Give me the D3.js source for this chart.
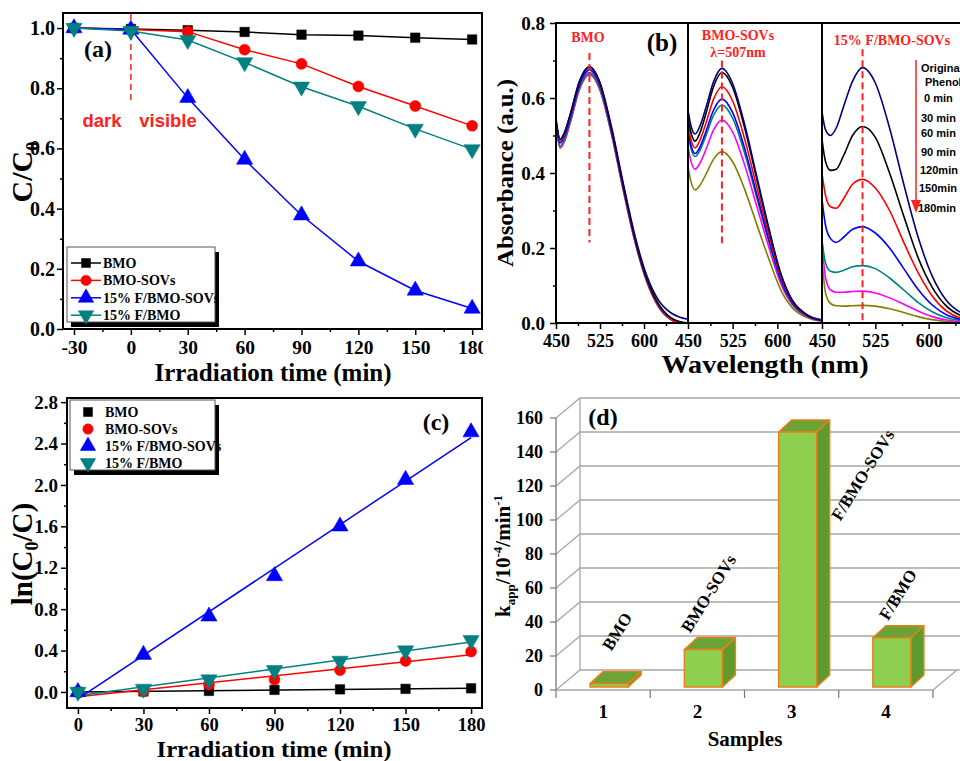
<!DOCTYPE html>
<html>
<head>
<meta charset="utf-8">
<script src="https://d3js.org/d3.v7.min.js"></script>
<style>
  body { margin: 0; background: #fff; }
  svg { display: block; }
</style>
</head>
<body>
<script>
// ---------- data ----------
// (a) C/C0 against irradiation time
var timeA = [-30, 0, 30, 60, 90, 120, 150, 180];
var ccBMO  = [1.0, 0.997, 0.993, 0.987, 0.978, 0.975, 0.968, 0.962];
var ccSOV  = [1.0, 0.995, 0.988, 0.928, 0.881, 0.806, 0.741, 0.675];
var ccFSOV = [1.0, 0.995, 0.768, 0.563, 0.378, 0.225, 0.128, 0.068];
var ccF    = [1.0, 0.990, 0.960, 0.886, 0.805, 0.740, 0.665, 0.597];
var seriesNames = ["BMO", "BMO-SOVs", "15% F/BMO-SOVs", "15% F/BMO"];
var seriesColors = ["#000000", "#ff0000", "#0000ff", "#008080"];
var ticksA = [-30, 0, 30, 60, 90, 120, 150, 180];

// (b) absorption spectra, one array per time step
var spectraColors = ["#000080", "#000000", "#ff0000", "#0000ff", "#008080", "#ff00ff", "#808000"];
var wlBMO = [450, 457, 465, 475, 490, 507, 525, 545, 565, 585, 605, 625, 645, 660, 675];
var absBMO = [
  [0.545, 0.490, 0.510, 0.560, 0.645, 0.683, 0.640, 0.520, 0.370, 0.230, 0.125, 0.060, 0.028, 0.016, 0.010],
  [0.540, 0.490, 0.510, 0.560, 0.643, 0.683, 0.640, 0.515, 0.365, 0.225, 0.118, 0.050, 0.015, 0.004, 0.000],
  [0.540, 0.485, 0.505, 0.555, 0.640, 0.681, 0.636, 0.512, 0.362, 0.222, 0.115, 0.047, 0.012, 0.002, 0.000],
  [0.535, 0.480, 0.500, 0.550, 0.635, 0.675, 0.632, 0.510, 0.360, 0.220, 0.114, 0.046, 0.012, 0.002, 0.000],
  [0.530, 0.472, 0.492, 0.543, 0.628, 0.668, 0.625, 0.505, 0.356, 0.217, 0.112, 0.045, 0.011, 0.002, 0.000],
  [0.530, 0.468, 0.488, 0.540, 0.625, 0.665, 0.622, 0.502, 0.353, 0.215, 0.110, 0.043, 0.010, 0.001, 0.000],
  [0.528, 0.466, 0.486, 0.538, 0.622, 0.662, 0.620, 0.500, 0.350, 0.213, 0.108, 0.042, 0.010, 0.001, 0.000]
];
var wlSOV = [450, 455, 462, 470, 480, 493, 507, 525, 545, 565, 585, 605, 625, 645, 660, 675];
var absSOV = [
  [0.568, 0.526, 0.504, 0.525, 0.574, 0.644, 0.679, 0.638, 0.530, 0.394, 0.258, 0.136, 0.061, 0.027, 0.014, 0.008],
  [0.550, 0.508, 0.485, 0.507, 0.558, 0.631, 0.668, 0.628, 0.521, 0.387, 0.254, 0.134, 0.060, 0.027, 0.013, 0.008],
  [0.530, 0.489, 0.467, 0.487, 0.532, 0.597, 0.630, 0.592, 0.491, 0.365, 0.239, 0.126, 0.057, 0.025, 0.013, 0.008],
  [0.515, 0.474, 0.452, 0.469, 0.510, 0.568, 0.597, 0.561, 0.466, 0.346, 0.227, 0.119, 0.054, 0.024, 0.012, 0.007],
  [0.505, 0.465, 0.444, 0.460, 0.499, 0.554, 0.581, 0.546, 0.453, 0.337, 0.221, 0.116, 0.052, 0.023, 0.012, 0.007],
  [0.470, 0.431, 0.410, 0.426, 0.462, 0.515, 0.541, 0.509, 0.422, 0.314, 0.206, 0.108, 0.049, 0.022, 0.011, 0.006],
  [0.417, 0.377, 0.355, 0.367, 0.396, 0.437, 0.457, 0.430, 0.357, 0.265, 0.174, 0.091, 0.041, 0.018, 0.009, 0.005]
];
var wlFSOV = [450, 455, 462, 470, 480, 493, 507, 525, 545, 565, 585, 605, 625, 645, 660, 675];
var absFSOV = [
  [0.563, 0.515, 0.500, 0.520, 0.575, 0.645, 0.681, 0.640, 0.520, 0.370, 0.230, 0.125, 0.060, 0.028, 0.016, 0.010],
  [0.490, 0.430, 0.407, 0.410, 0.445, 0.500, 0.524, 0.495, 0.400, 0.285, 0.175, 0.095, 0.045, 0.020, 0.012, 0.008],
  [0.400, 0.340, 0.310, 0.306, 0.330, 0.370, 0.383, 0.360, 0.300, 0.215, 0.135, 0.072, 0.032, 0.013, 0.008, 0.005],
  [0.330, 0.260, 0.225, 0.215, 0.228, 0.250, 0.257, 0.240, 0.200, 0.145, 0.090, 0.048, 0.022, 0.010, 0.006, 0.004],
  [0.220, 0.160, 0.138, 0.135, 0.140, 0.150, 0.153, 0.145, 0.120, 0.088, 0.055, 0.030, 0.014, 0.007, 0.004, 0.003],
  [0.220, 0.120, 0.088, 0.082, 0.082, 0.084, 0.085, 0.080, 0.067, 0.050, 0.032, 0.017, 0.008, 0.004, 0.003, 0.002],
  [0.170, 0.080, 0.052, 0.046, 0.045, 0.046, 0.047, 0.045, 0.038, 0.028, 0.017, 0.009, 0.004, 0.002, 0.001, 0.001]
];
var subTitles = ["BMO", "BMO-SOVs", "15% F/BMO-SOVs"];
var peakWl = 507;
var timeLabels = ["Original", "Phenol", "0  min", "30 min", "60 min", "90 min", "120min", "150min", "180min"];

// (c) ln(C0/C) against time
var timeC = [0, 30, 60, 90, 120, 150, 180];
var lnBMO  = [0.0, 0.005, 0.01, 0.02, 0.025, 0.03, 0.035];
var lnSOV  = [0.0, 0.005, 0.07, 0.12, 0.21, 0.30, 0.39];
var lnFSOV = [0.0, 0.36, 0.73, 1.12, 1.60, 2.05, 2.51];
var lnF    = [0.0, 0.03, 0.12, 0.21, 0.30, 0.40, 0.50];

// (d) apparent rate constants
var sampleIds = ["1", "2", "3", "4"];
var sampleNames = ["BMO", "BMO-SOVs", "F/BMO-SOVs", "F/BMO"];
var kValues = [2, 22, 150, 29];

// ---------- helpers ----------
var serif = '"Liberation Serif","Times New Roman",serif';
var sans = '"Liberation Sans",Arial,sans-serif';

var svg = d3.select("body").append("svg").attr("width", 960).attr("height", 761);

function txt(g, s, x, y, o) {
  o = o || {};
  var t = g.append("text").attr("x", x).attr("y", y)
    .attr("font-family", o.family || serif)
    .attr("font-weight", o.weight || "bold")
    .attr("font-size", o.size || 20)
    .attr("fill", o.fill || "#000")
    .attr("text-anchor", o.anchor || "middle")
    .text(s);
  if (o.rotate) t.attr("transform", "rotate(" + o.rotate + "," + x + "," + y + ")");
  if (o.len) t.attr("textLength", o.len).attr("lengthAdjust", "spacingAndGlyphs");
  return t;
}

// text made of pieces, some sub or superscript
function rich(g, parts, x, y, size, rotate) {
  var t = g.append("text").attr("x", x).attr("y", y)
    .attr("font-family", serif).attr("font-weight", "bold")
    .attr("font-size", size).attr("text-anchor", "middle")
    .attr("transform", "rotate(" + rotate + "," + x + "," + y + ")");
  var shift = 0;
  parts.forEach(function(p) {
    var want = p[1] == "sub" ? size * 0.22 : p[1] == "sup" ? -size * 0.38 : 0;
    var ts = t.append("tspan").text(p[0]).attr("dy", want - shift);
    if (p[1]) ts.attr("font-size", size * 0.62);
    shift = want;
  });
  return t;
}

function styleAxis(g, size) {
  g.select(".domain").remove();
  g.selectAll(".tick line").attr("stroke", "#000").attr("stroke-width", 1.5);
  g.selectAll(".tick text").attr("font-family", serif).attr("font-weight", "bold")
    .attr("font-size", size).attr("fill", "#000");
}

function marker(g, kind, x, y, color, size) {
  var type = kind == 0 ? d3.symbolSquare : kind == 1 ? d3.symbolCircle : d3.symbolTriangle;
  var p = g.append("path").attr("d", d3.symbol().type(type).size(size)())
    .attr("fill", color).attr("stroke", color).attr("stroke-width", 0.5);
  var tr = "translate(" + x + "," + y + ")";
  if (kind == 3) tr += " rotate(180)";
  p.attr("transform", tr);
}
var markerSizes = [90, 95, 115, 115];

function legendBox(g, x, y, w, h) {
  g.append("rect").attr("x", x + 4).attr("y", y + 5).attr("width", w).attr("height", h).attr("fill", "#000");
  g.append("rect").attr("x", x).attr("y", y).attr("width", w).attr("height", h)
    .attr("fill", "#fff").attr("stroke", "#555").attr("stroke-width", 1);
}

// ---------- panel (a) ----------
svg.append("clipPath").attr("id", "clipA").append("rect")
  .attr("x", 0).attr("y", 0).attr("width", 483).attr("height", 390);
var ga = svg.append("g").attr("clip-path", "url(#clipA)");
var xa = d3.scaleLinear().domain([-35.8, 185.2]).range([63, 482]);
var ya = d3.scaleLinear().domain([0, 1.05]).range([329, 13]);

ga.append("g").attr("transform", "translate(0,329)")
  .call(d3.axisBottom(xa).tickValues(d3.range(-15, 181, 30)).tickSize(3).tickFormat(""))
  .call(styleAxis, 20);
ga.append("g").attr("transform", "translate(0,329)")
  .call(d3.axisBottom(xa).tickValues(ticksA).tickSize(6).tickPadding(5).tickFormat(function(d) { return String(d); }))
  .call(styleAxis, 19.5);
ga.append("g").attr("transform", "translate(63,0)")
  .call(d3.axisLeft(ya).tickValues([0.1, 0.3, 0.5, 0.7, 0.9]).tickSize(3).tickFormat(""))
  .call(styleAxis, 20);
ga.append("g").attr("transform", "translate(63,0)")
  .call(d3.axisLeft(ya).tickValues([0, 0.2, 0.4, 0.6, 0.8, 1.0]).tickSize(6).tickPadding(2).tickFormat(d3.format(".1f")))
  .call(styleAxis, 20);
ga.append("rect").attr("x", 63).attr("y", 13).attr("width", 419).attr("height", 316)
  .attr("fill", "none").attr("stroke", "#000").attr("stroke-width", 2);

// dark / visible divider
ga.append("line").attr("x1", xa(0)).attr("x2", xa(0)).attr("y1", 14).attr("y2", ya(0.76))
  .attr("stroke", "#ff2020").attr("stroke-width", 1.5).attr("stroke-dasharray", "6,4");
txt(ga, "dark", 102, 127, { family: sans, size: 18.5, fill: "#ff2020" });
txt(ga, "visible", 168, 127, { family: sans, size: 18.5, fill: "#ff2020" });
txt(ga, "(a)", 98, 57, { size: 24 });

var lineA = d3.line().x(function(d) { return xa(d[0]); }).y(function(d) { return ya(d[1]); });
[ccBMO, ccSOV, ccFSOV, ccF].forEach(function(arr, k) {
  var pts = timeA.map(function(t, i) { return [t, arr[i]]; });
  ga.append("path").attr("d", lineA(pts)).attr("fill", "none")
    .attr("stroke", seriesColors[k]).attr("stroke-width", 1.5);
  pts.forEach(function(p) { marker(ga, k, xa(p[0]), ya(p[1]), seriesColors[k], markerSizes[k]); });
});

legendBox(ga, 67, 247, 148, 75);
seriesNames.forEach(function(n, k) {
  var yy = 263 + k * 17.4;
  ga.append("line").attr("x1", 71).attr("x2", 101).attr("y1", yy).attr("y2", yy)
    .attr("stroke", seriesColors[k]).attr("stroke-width", 1.5);
  marker(ga, k, 86, yy, seriesColors[k], markerSizes[k] * 0.9);
  txt(ga, n, 103, yy + 5, { size: 14, anchor: "start" });
});

rich(ga, [["C/C", null], ["0", "sub"]], 32, 172, 30, -90);
txt(ga, "Irradiation time (min)", 273, 381, { size: 24.5, len: 237 });

// ---------- panel (b) ----------
var gb = svg.append("g");
var yb = d3.scaleLinear().domain([0, 0.8]).range([323, 23]);
var subs = [
  { x0: 556, px: 132, wl: wlBMO, abs: absBMO },
  { x0: 688, px: 134, wl: wlSOV, abs: absSOV },
  { x0: 822, px: 160, wl: wlFSOV, abs: absFSOV }
];
var dashSpan = [[0.72, 0.215], [0.70, 0.213], [0.73, 0]];
var titlePos = [[588, 42], [738, 40], [892, 45]];

subs.forEach(function(s, si) {
  var xs = d3.scaleLinear().domain([450, 675]).range([s.x0, s.x0 + s.px]);
  var cid = "clipB" + si;
  svg.append("clipPath").attr("id", cid).append("rect")
    .attr("x", s.x0).attr("y", 23).attr("width", s.px).attr("height", 300);
  var gc = gb.append("g").attr("clip-path", "url(#" + cid + ")");
  var line = d3.line().curve(d3.curveMonotoneX)
    .x(function(d) { return xs(d[0]); }).y(function(d) { return yb(d[1]); });
  for (var k = s.abs.length - 1; k >= 0; k--) {
    var pts = s.wl.map(function(w, i) { return [w, s.abs[k][i]]; });
    gc.append("path").attr("d", line(pts)).attr("fill", "none")
      .attr("stroke", spectraColors[k]).attr("stroke-width", 1.6);
  }
  gb.append("line").attr("x1", xs(peakWl)).attr("x2", xs(peakWl))
    .attr("y1", yb(dashSpan[si][0])).attr("y2", yb(dashSpan[si][1]))
    .attr("stroke", "#ff2020").attr("stroke-width", 2).attr("stroke-dasharray", "7,4");
  gb.append("g").attr("transform", "translate(0,323)")
    .call(d3.axisBottom(xs).tickValues([487.5, 562.5, 637.5]).tickSize(3).tickFormat(""))
    .call(styleAxis, 18);
  gb.append("g").attr("transform", "translate(0,323)")
    .call(d3.axisBottom(xs).tickValues([450, 525, 600]).tickSize(6).tickPadding(5).tickFormat(d3.format("d")))
    .call(styleAxis, 18);
  txt(gb, subTitles[si], titlePos[si][0], titlePos[si][1], { size: 14, fill: "#ff2020" });
});
txt(gb, "\u03bb=507nm", 738, 57, { size: 14, fill: "#ff2020" });

gb.append("g").attr("transform", "translate(556,0)")
  .call(d3.axisLeft(yb).tickValues([0.1, 0.3, 0.5, 0.7]).tickSize(3).tickFormat(""))
  .call(styleAxis, 19);
gb.append("g").attr("transform", "translate(556,0)")
  .call(d3.axisLeft(yb).tickValues([0, 0.2, 0.4, 0.6, 0.8]).tickSize(6).tickPadding(5).tickFormat(d3.format(".1f")))
  .call(styleAxis, 19);
gb.append("path").attr("d", "M960,23H556V323H960").attr("fill", "none")
  .attr("stroke", "#000").attr("stroke-width", 2);
[688, 822].forEach(function(x) {
  gb.append("line").attr("x1", x).attr("x2", x).attr("y1", 23).attr("y2", 323)
    .attr("stroke", "#000").attr("stroke-width", 2);
});
txt(gb, "(b)", 662, 51, { size: 25 });

// time legend with arrow
gb.append("line").attr("x1", 916).attr("x2", 916).attr("y1", 60).attr("y2", 203)
  .attr("stroke", "#ff2020").attr("stroke-width", 1.5);
gb.append("path").attr("d", "M911,200L921,200L916,213Z").attr("fill", "#ff2020");
var tlX = [921, 925, 924, 921, 921, 921, 920, 919, 918];
var tlY = [68, 82, 98, 118, 133, 152, 170, 188, 208];
timeLabels.forEach(function(s, i) {
  txt(gb, s, tlX[i], tlY[i] + 4, { family: sans, size: 11, anchor: "start" });
});

rich(gb, [["Absorbance (a.u.)", null]], 513, 173, 24, -90).attr("textLength", 188).attr("lengthAdjust", "spacingAndGlyphs");
txt(gb, "Wavelength (nm)", 765, 373, { size: 26, len: 207 });

// ---------- panel (c) ----------
var gcp = svg.append("g");
var xc = d3.scaleLinear().domain([-5, 185]).range([67, 482]);
var yc = d3.scaleLinear().domain([-0.155, 2.84]).range([708, 398]);
gcp.append("g").attr("transform", "translate(0,708)")
  .call(d3.axisBottom(xc).tickValues(d3.range(15, 181, 30)).tickSize(3).tickFormat(""))
  .call(styleAxis, 19);
gcp.append("g").attr("transform", "translate(0,708)")
  .call(d3.axisBottom(xc).tickValues(timeC).tickSize(6).tickPadding(4).tickFormat(d3.format("d")))
  .call(styleAxis, 18.5);
gcp.append("g").attr("transform", "translate(67,0)")
  .call(d3.axisLeft(yc).tickValues([0.2, 0.6, 1.0, 1.4, 1.8, 2.2, 2.6]).tickSize(3).tickFormat(""))
  .call(styleAxis, 19);
gcp.append("g").attr("transform", "translate(67,0)")
  .call(d3.axisLeft(yc).tickValues([0, 0.4, 0.8, 1.2, 1.6, 2.0, 2.4, 2.8]).tickSize(6).tickPadding(3).tickFormat(d3.format(".1f")))
  .call(styleAxis, 19);
gcp.append("rect").attr("x", 67).attr("y", 398).attr("width", 415).attr("height", 310)
  .attr("fill", "none").attr("stroke", "#000").attr("stroke-width", 2);

// least squares line through each series
function fit(ys) {
  var mx = d3.mean(timeC), my = d3.mean(ys);
  var num = d3.sum(timeC, function(t, i) { return (t - mx) * (ys[i] - my); });
  var den = d3.sum(timeC, function(t) { return (t - mx) * (t - mx); });
  var b = num / den;
  return [my - b * mx, b];
}
[lnBMO, lnSOV, lnFSOV, lnF].forEach(function(arr, k) {
  var f = fit(arr);
  gcp.append("line").attr("x1", xc(0)).attr("y1", yc(f[0]))
    .attr("x2", xc(180)).attr("y2", yc(f[0] + f[1] * 180))
    .attr("stroke", seriesColors[k]).attr("stroke-width", 1.5);
});
[lnBMO, lnSOV, lnFSOV, lnF].forEach(function(arr, k) {
  timeC.forEach(function(t, i) { marker(gcp, k, xc(t), yc(arr[i]), seriesColors[k], markerSizes[k]); });
});

legendBox(gcp, 70, 400, 145, 70);
seriesNames.forEach(function(n, k) {
  var yy = 412 + k * 17;
  marker(gcp, k, 88, yy, seriesColors[k], markerSizes[k] * 0.9);
  txt(gcp, n, 105, yy + 5, { size: 14, anchor: "start" });
});
txt(gcp, "(c)", 436, 430, { size: 24 });
rich(gcp, [["ln(C", null], ["0", "sub"], ["/C)", null]], 32, 554, 29, -90);
txt(gcp, "Irradiation time (min)", 274, 757, { size: 24, len: 235 });

// ---------- panel (d) ----------
var gd = svg.append("g");
var xd = d3.scaleBand().domain(sampleIds).range([556, 933]);
var yd = d3.scaleLinear().domain([0, 160]).range([690, 418]);
var depth = [24, -20];     // wall offset
var barOff = [6, -3];      // bar front plane offset
var barDepth = [13, -12];  // bar thickness
var barW = 38;
var grid = "#a8a8a8";

d3.range(0, 161, 20).forEach(function(v) {
  var y = yd(v);
  gd.append("path").attr("d", "M556," + y + "L" + (556 + depth[0]) + "," + (y + depth[1]) + "H960")
    .attr("fill", "none").attr("stroke", grid).attr("stroke-width", 1.3);
  gd.append("line").attr("x1", 550).attr("x2", 556).attr("y1", y).attr("y2", y)
    .attr("stroke", "#777").attr("stroke-width", 1.2);
});
gd.append("line").attr("x1", 556 + depth[0]).attr("x2", 556 + depth[0])
  .attr("y1", yd(160) + depth[1]).attr("y2", yd(0) + depth[1]).attr("stroke", grid).attr("stroke-width", 1.3);
gd.append("line").attr("x1", 556).attr("x2", 556).attr("y1", yd(160)).attr("y2", yd(0))
  .attr("stroke", "#777").attr("stroke-width", 1.3);
gd.append("path").attr("d", "M556," + yd(0) + "H933L" + (933 + depth[0]) + "," + (yd(0) + depth[1]))
  .attr("fill", "none").attr("stroke", grid).attr("stroke-width", 1.3);
[556, 650.25, 744.5, 838.75, 933].forEach(function(x) {
  gd.append("line").attr("x1", x).attr("x2", x).attr("y1", yd(0)).attr("y2", yd(0) + 8)
    .attr("stroke", "#777").attr("stroke-width", 1.2);
});

var labelShift = [[19, -58], [16, -62], [76, 37], [17, -49]];
sampleIds.forEach(function(id, i) {
  var cx = xd(id) + xd.bandwidth() / 2 + barOff[0];
  var x0 = cx - barW / 2, x1 = cx + barW / 2;
  var yb0 = yd(0) + barOff[1], yt = yd(kValues[i]) + barOff[1];
  var dx = barDepth[0], dy = barDepth[1];
  var pts = function(a) { return a.map(function(p) { return p.join(","); }).join(" "); };
  gd.append("polygon").attr("points", pts([[x1, yt], [x1 + dx, yt + dy], [x1 + dx, yb0 + dy], [x1, yb0]]))
    .attr("fill", "#5e9a2e").attr("stroke", "#e8801a").attr("stroke-width", 1.5).attr("stroke-linejoin", "round");
  gd.append("polygon").attr("points", pts([[x0, yt], [x0 + dx, yt + dy], [x1 + dx, yt + dy], [x1, yt]]))
    .attr("fill", "#6aa336").attr("stroke", "#e8801a").attr("stroke-width", 1.5).attr("stroke-linejoin", "round");
  gd.append("rect").attr("x", x0).attr("y", yt).attr("width", barW).attr("height", yb0 - yt)
    .attr("fill", "#8fcf4f").attr("stroke", "#e8801a").attr("stroke-width", 1.5);
  var lx = xd(id) + xd.bandwidth() / 2 + labelShift[i][0];
  var ly = yd(kValues[i]) + labelShift[i][1];
  txt(gd, sampleNames[i], lx, ly + 6, { size: 17, rotate: -58 });
});

gd.append("g").attr("transform", "translate(0," + (yd(0) + 5) + ")")
  .call(d3.axisBottom(xd).tickSize(0).tickPadding(10))
  .call(styleAxis, 19);
gd.append("g").attr("transform", "translate(549,0)")
  .call(d3.axisLeft(yd).tickValues(d3.range(0, 161, 20)).tickSize(0).tickPadding(6))
  .call(styleAxis, 18);
txt(gd, "(d)", 603, 425, { size: 24 });
txt(gd, "Samples", 745, 746, { size: 21 });
rich(gd, [["k", null], ["app", "sub"], ["/10", null], ["-4", "sup"], ["/min", null], ["-1", "sup"]], 510, 556, 21, -90);
</script>
</body>
</html>
